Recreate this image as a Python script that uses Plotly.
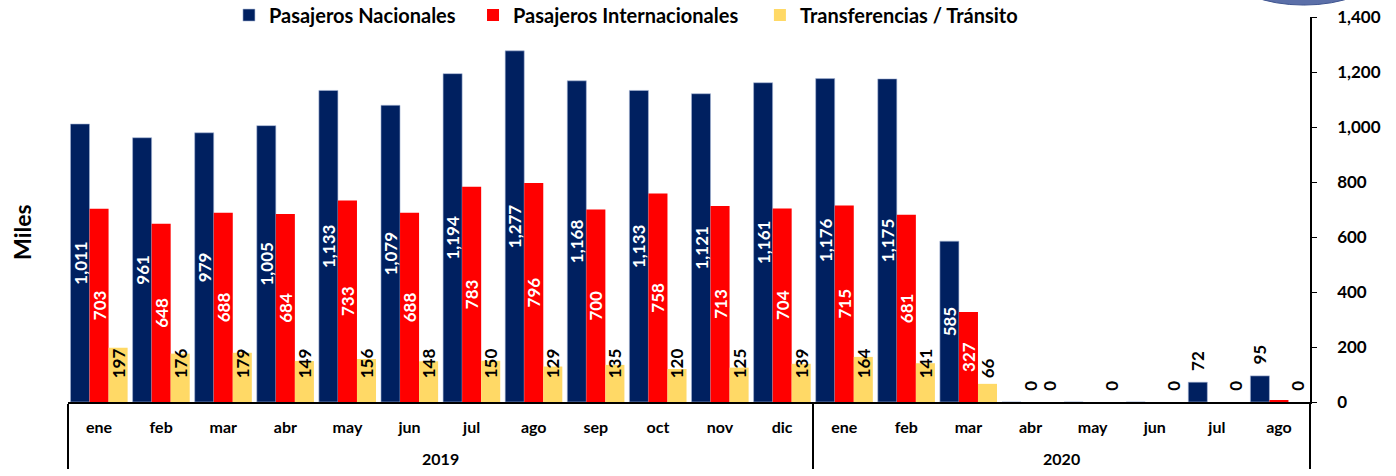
import plotly.graph_objects as go

years = ["2019"] * 12 + ["2020"] * 8
months = ["ene", "feb", "mar", "abr", "may", "jun", "jul", "ago", "sep", "oct", "nov", "dic",
          "ene", "feb", "mar", "abr", "may", "jun", "jul", "ago"]

nacionales = [1011, 961, 979, 1005, 1133, 1079, 1194, 1277, 1168, 1133, 1121, 1161,
              1176, 1175, 585, 0, 0, 0, 72, 95]
internacionales = [703, 648, 688, 684, 733, 688, 783, 796, 700, 758, 713, 704,
                   715, 681, 327, 0, 0, 0, 0, 6]
transferencias = [197, 176, 179, 149, 156, 148, 150, 129, 135, 120, 125, 139,
                  164, 141, 66, 0, 0, 0, 0, 0]

# which value labels are printed in the reference
nac_shown = [True] * 15 + [False, False, False, True, True]
int_shown = [True] * 16 + [False, False, False, False]

NAVY = "#002060"
RED = "#FF0000"
YELLOW = "#FFD966"
FONT = "Lato"
NB = "\u00a0"
LBL = 17


def fmt(v):
    return f"{v:,}"


x = [["<br>" + y for y in years], months]

nac_text = [(fmt(v) if v > 200 else NB * 2 + fmt(v)) if s else ""
            for v, s in zip(nacionales, nac_shown)]
nac_pos = ["inside" if v > 200 else "outside" for v in nacionales]

int_text = [(fmt(v) if v > 200 else NB * 2 + fmt(v)) if s else ""
            for v, s in zip(internacionales, int_shown)]
int_pos = ["inside" if v > 200 else "outside" for v in internacionales]

tra_text = [(NB * 5 + fmt(v)) if v > 0 else (NB * 2 + fmt(v)) for v in transferencias]
tra_pos = ["inside" if v > 0 else "outside" for v in transferencias]

fig = go.Figure()
fig.add_trace(go.Bar(
    x=x, y=nacionales, name="Pasajeros Nacionales", legend="legend",
    marker=dict(color=NAVY, line=dict(color="#A9B8D6", width=0.6)),
    text=nac_text, textposition=nac_pos, textangle=-90,
    insidetextanchor="middle",
    insidetextfont=dict(color="white", family=FONT, size=LBL, weight="bold"),
    outsidetextfont=dict(color="black", family=FONT, size=LBL, weight="bold"),
    cliponaxis=False,
))
fig.add_trace(go.Bar(
    x=x, y=internacionales, name="Pasajeros Internacionales", legend="legend2",
    marker=dict(color=RED, line=dict(width=0)),
    text=int_text, textposition=int_pos, textangle=-90,
    insidetextanchor="middle",
    insidetextfont=dict(color="white", family=FONT, size=LBL, weight="bold"),
    outsidetextfont=dict(color="black", family=FONT, size=LBL, weight="bold"),
    cliponaxis=False,
))
fig.add_trace(go.Bar(
    x=x, y=transferencias, name="Transferencias / Tránsito", legend="legend3",
    marker=dict(color=YELLOW, line=dict(width=0)),
    text=tra_text, textposition=tra_pos, textangle=-90,
    insidetextanchor="start",
    insidetextfont=dict(color="black", family=FONT, size=LBL, weight="bold"),
    outsidetextfont=dict(color="black", family=FONT, size=LBL, weight="bold"),
    cliponaxis=False,
))

legend_style = dict(orientation="h", xanchor="left", y=1.005, yanchor="middle",
                    font=dict(size=20, family=FONT, weight="bold", color="black"),
                    bgcolor="rgba(0,0,0,0)", itemwidth=30)

fig.update_layout(
    width=1396, height=476,
    margin=dict(l=68, r=86, t=17, b=74, autoexpand=False),
    paper_bgcolor="white", plot_bgcolor="white",
    barmode="group", bargap=0.08, bargroupgap=0,
    uniformtext=dict(minsize=LBL, mode="show"),
    font=dict(family=FONT, size=16, color="black", weight="bold"),
    legend=dict(x=0.1296, **legend_style),
    legend2=dict(x=0.3261, **legend_style),
    legend3=dict(x=0.5571, **legend_style),
    showlegend=True,
)
fig.update_xaxes(
    type="multicategory", showline=True, linecolor="black", linewidth=1.5,
    ticks="", showdividers=True, dividercolor="black", dividerwidth=1.5,
    tickfont=dict(family=FONT, size=16, weight="bold", color="black"),
    showgrid=False, zeroline=False, automargin=False, ticklabelstandoff=10,
)
fig.update_yaxes(
    side="right", range=[0, 1400], dtick=200, tickformat=",",
    showline=True, linecolor="black", linewidth=1.5,
    ticks="outside", ticklen=5, tickcolor="black", tickwidth=1.2,
    tickfont=dict(family=FONT, size=17, weight="bold", color="black"),
    showgrid=False, zeroline=False, ticklabelstandoff=17, automargin=False,
)

fig.add_annotation(
    text="Miles", xref="paper", yref="paper", x=-0.037, y=0.442, textangle=-90,
    showarrow=False, font=dict(family=FONT, size=23, weight="bold", color="black"),
    xanchor="center", yanchor="middle",
)

# logo fragment at the top right corner
fig.add_shape(
    type="circle", xref="paper", yref="paper",
    x0=0.937, x1=1.053, y0=1.031, y1=1.187,
    fillcolor="#5B6FA8", line=dict(color="#3F5590", width=1), layer="above",
)

fig.write_html("out.html", config={"displayModeBar": False},
               post_script="document.body.style.margin='0px';")
